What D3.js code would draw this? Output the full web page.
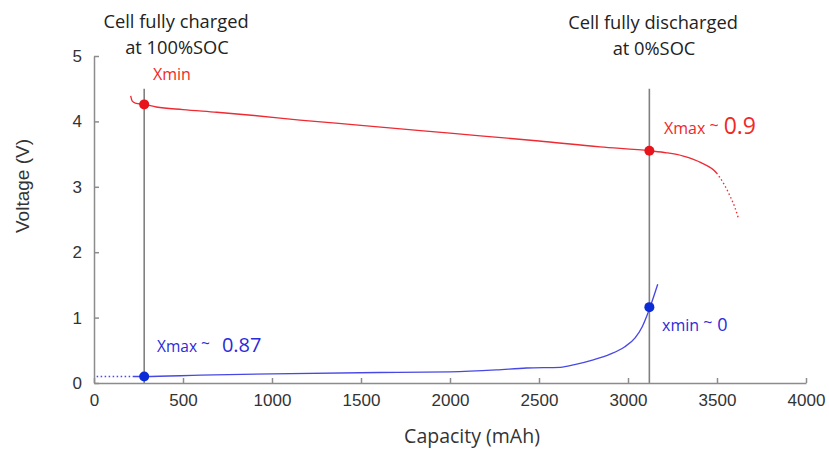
<!DOCTYPE html>
<html>
<head>
<meta charset="utf-8">
<script src="https://cdn.jsdelivr.net/npm/d3@7"></script>
<style>
  body { margin: 0; background: #fff; }
  svg { display: block; }
  .tick text { font-family: "Liberation Sans", Arial, sans-serif; font-size: 17px; fill: #333; }
  .axis path, .axis line { stroke: #8c8c8c; stroke-width: 1.5; }
  .note { font-family: "Open Sans", "Noto Sans", sans-serif; }
</style>
</head>
<body>
<script>
// red: cell voltage during discharge (mAh, V); dotted after redDotFrom
var redCurve = [[206, 4.39], [215, 4.31], [232, 4.28], [282, 4.26], [350, 4.22], [500, 4.18],
                [690, 4.14], [900, 4.09], [1157, 4.02], [1500, 3.94], [2000, 3.82], [2500, 3.70],
                [2843, 3.61], [3124, 3.55], [3217, 3.52], [3311, 3.47], [3410, 3.37], [3498, 3.21],
                [3535, 3.06], [3573, 2.86], [3601, 2.68], [3620, 2.52]];
var redDotFrom = 3498;

// blue curve; dotted before blueDotTo
var blueCurve = [[15, 0.10], [120, 0.10], [208, 0.10], [282, 0.10], [600, 0.12], [1000, 0.14],
                 [1600, 0.16], [2000, 0.17], [2260, 0.20], [2430, 0.23], [2620, 0.24], [2700, 0.28],
                 [2800, 0.35], [2900, 0.44], [2980, 0.55], [3040, 0.69], [3080, 0.86], [3105, 1.02],
                 [3124, 1.16], [3167, 1.51]];
var blueDotTo = 208;

var markers = [{x: 282, y: 4.26, c: "#e8141c"}, {x: 3120, y: 3.55, c: "#e8141c"},
               {x: 282, y: 0.10, c: "#0b2bd6"}, {x: 3120, y: 1.16, c: "#0b2bd6"}];
var guideX = [282, 3120];
var guideTop = 4.5;

var xTicks = [0, 500, 1000, 1500, 2000, 2500, 3000, 3500, 4000];
var yTicks = [0, 1, 2, 3, 4, 5];

var width = 829, height = 451;

var svg = d3.select("body").append("svg")
            .attr("width", width)
            .attr("height", height);

var x = d3.scaleLinear().domain([0, 4000]).range([94, 806]);
var y = d3.scaleLinear().domain([0, 5]).range([383, 56]);

var line = d3.line()
             .x(function(d) { return x(d[0]); })
             .y(function(d) { return y(d[1]); })
             .curve(d3.curveMonotoneX);

// guides
svg.selectAll(".guide")
   .data(guideX)
   .enter().append("line")
   .attr("class", "guide")
   .attr("x1", function(d) { return x(d); })
   .attr("x2", function(d) { return x(d); })
   .attr("y1", y(guideTop))
   .attr("y2", y(0))
   .style("stroke", "#808080")
   .style("stroke-width", 1.6);

svg.append("g")
   .attr("class", "axis")
   .attr("transform", "translate(0," + y(0) + ")")
   .call(d3.axisBottom(x).tickValues(xTicks).tickFormat(d3.format("d"))
           .tickSize(-5).tickSizeOuter(0).tickPadding(11));

svg.append("g")
   .attr("class", "axis")
   .attr("transform", "translate(" + x(0) + ",0)")
   .call(d3.axisLeft(y).tickValues(yTicks).tickFormat(d3.format("d"))
           .tickSize(-5).tickSizeOuter(0).tickPadding(12));

// dots (1.5 on, 2.5 off) covering a stretch of the given length
function dotPattern(len) {
    var out = [], pos = 0;
    while (pos < len) { out.push(1.5, 2.5); pos += 4; }
    return out;
}

function drawCurve(data, color, splitX, dottedAfter) {
    var path = svg.append("path").datum(data).attr("d", line)
                  .style("fill", "none").style("stroke", color).style("stroke-width", 1.35);
    var total = path.node().getTotalLength();
    var part = data.filter(function(d) { return d[0] <= splitX; });
    var tmp = svg.append("path").attr("d", line(part));
    var split = tmp.node().getTotalLength();
    tmp.remove();
    var dash;
    if (dottedAfter) {
        dash = [split, 0].concat(dotPattern(total - split));
    } else {
        dash = dotPattern(split).concat([total, 0]);
    }
    path.style("stroke-dasharray", dash.join(","));
}

drawCurve(redCurve, "#ee2a33", redDotFrom, true);
drawCurve(blueCurve, "#4848e4", blueDotTo, false);

svg.selectAll(".marker")
   .data(markers)
   .enter().append("circle")
   .attr("class", "marker")
   .attr("cx", function(d) { return x(d.x); })
   .attr("cy", function(d) { return y(d.y); })
   .attr("r", 5)
   .style("fill", function(d) { return d.c; });

// axis titles
svg.append("text")
   .attr("transform", "translate(22,186) rotate(-90)")
   .attr("text-anchor", "middle")
   .attr("dy", "0.35em")
   .style("font-family", "Liberation Sans, Arial, sans-serif")
   .style("font-size", "19px")
   .style("fill", "#333")
   .text("Voltage (V)");

svg.append("text")
   .attr("class", "note")
   .attr("x", 472).attr("y", 443)
   .attr("text-anchor", "middle")
   .style("font-size", "19.5px")
   .style("fill", "#333")
   .text("Capacity (mAh)");

// header notes
var notes = [{t: "Cell fully charged", x: 176, y: 28}, {t: "at 100%SOC", x: 177, y: 54},
             {t: "Cell fully discharged", x: 653, y: 29}, {t: "at 0%SOC", x: 654, y: 55}];
svg.selectAll(".head")
   .data(notes)
   .enter().append("text")
   .attr("class", "note head")
   .attr("x", function(d) { return d.x; })
   .attr("y", function(d) { return d.y; })
   .attr("text-anchor", "middle")
   .style("font-size", "18.3px")
   .style("fill", "#222")
   .text(function(d) { return d.t; });

// curve labels
function label(px, py, name, num, color, small, big, gap) {
    var t = svg.append("text")
               .attr("class", "note")
               .attr("x", px).attr("y", py)
               .style("fill", color);
    t.append("tspan").style("font-size", small + "px").text(name);
    if (num !== null) {
        t.append("tspan").attr("dy", -3).style("font-size", small + "px").text(" ~");
        t.append("tspan").attr("dx", gap).attr("dy", 3).style("font-size", big + "px").text(num);
    }
}
label(153, 80, "Xmin", null, "#f02828", 16, 0, 0);
label(664, 134, "Xmax", "0.9", "#f02828", 16, 23, 5);
label(157, 352, "Xmax", "0.87", "#2b2bd8", 15.5, 20, 12);
label(662, 331, "xmin", "0", "#2b2bd8", 16, 18, 5);
</script>
</body>
</html>
